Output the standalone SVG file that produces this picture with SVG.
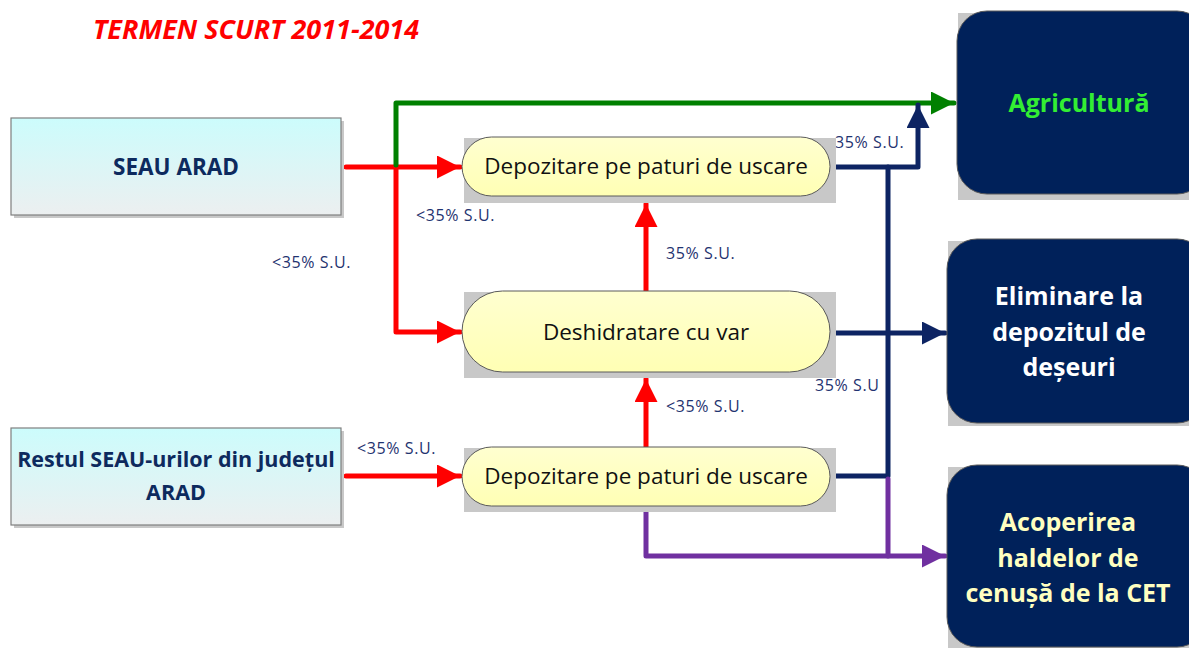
<svg xmlns="http://www.w3.org/2000/svg" width="1189" height="648" viewBox="0 0 1189 648">
<defs>
<linearGradient id="gBlue" x1="0" y1="0" x2="0" y2="1"><stop offset="0" stop-color="#ccfcfc"/><stop offset="1" stop-color="#eceff0"/></linearGradient>
<linearGradient id="gYel" x1="0" y1="0" x2="0" y2="1"><stop offset="0" stop-color="#ffffd0"/><stop offset="1" stop-color="#ffffb4"/></linearGradient>
<marker id="aRed" viewBox="0 0 10 10" refX="10" refY="5" markerWidth="4.6" markerHeight="4.6" markerUnits="strokeWidth" orient="auto"><path d="M0,0 L10,5 L0,10 z" fill="#ff0000"/></marker>
<marker id="aGreen" viewBox="0 0 10 10" refX="10" refY="5" markerWidth="4.6" markerHeight="4.6" markerUnits="strokeWidth" orient="auto"><path d="M0,0 L10,5 L0,10 z" fill="#008000"/></marker>
<marker id="aNavy" viewBox="0 0 10 10" refX="10" refY="5" markerWidth="4.6" markerHeight="4.6" markerUnits="strokeWidth" orient="auto"><path d="M0,0 L10,5 L0,10 z" fill="#0d2463"/></marker>
<marker id="aPurple" viewBox="0 0 10 10" refX="10" refY="5" markerWidth="4.6" markerHeight="4.6" markerUnits="strokeWidth" orient="auto"><path d="M0,0 L10,5 L0,10 z" fill="#7030a0"/></marker>
</defs>
<style>
.src{fill:url(#gBlue);stroke:#7f7f7f;stroke-width:1.2}
.sh{fill:#c8c8c8}
.pill{fill:url(#gYel);stroke:#5a5a5a;stroke-width:1}
.dst{fill:#00215a;stroke:#5a5a5a;stroke-width:1}
.ln{fill:none;stroke-width:5;stroke-linejoin:round;stroke-linecap:round}
.red{stroke:#ff0000}
.green{stroke:#008000}
.navy{stroke:#0d2463}
.purple{stroke:#7030a0}
.t{font-family:"Open Sans","Liberation Sans",sans-serif}
.srct{font-weight:bold;fill:#0d2a5e;text-anchor:middle}
.pt{font-size:22.5px;fill:#111;text-anchor:middle}
.dt{font-size:25px;font-weight:bold;text-anchor:middle}
.lbl{font-size:16px;letter-spacing:0.6px;fill:#1f3370}
</style>
<text class="t" x="93" y="39" font-size="27" font-weight="bold" font-style="italic" fill="#ff0000">TERMEN SCURT 2011-2014</text>

<g id="connectors">
<path class="ln red" d="M346,167 L460,167" marker-end="url(#aRed)"/>
<path class="ln red" d="M396,167 L396,332 L460,332" marker-end="url(#aRed)"/>
<path class="ln green" d="M396,165 L396,103 L954,103" marker-end="url(#aGreen)"/>
<path class="ln red" d="M646,291 L646,204" marker-end="url(#aRed)"/>
<path class="ln red" d="M646,447 L646,379" marker-end="url(#aRed)"/>
<path class="ln red" d="M346,476 L460,476" marker-end="url(#aRed)"/>
<path class="ln navy" d="M836,167 L918,167 L918,105" marker-end="url(#aNavy)"/>
<path class="ln navy" d="M829,476 L888,476 L888,167"/>
<path class="ln navy" d="M836,333 L945,333" marker-end="url(#aNavy)"/>
<path class="ln purple" d="M646,504 L646,556 L945,556" marker-end="url(#aPurple)"/>
<path class="ln purple" d="M888,479 L888,556"/>
</g>

<g id="lbl1"><text class="t lbl" x="416" y="221">&lt;35% S.U.</text></g>
<g id="lbl2"><text class="t lbl" x="272" y="268">&lt;35% S.U.</text></g>
<g id="lbl3"><text class="t lbl" x="666" y="259">35% S.U.</text></g>
<g id="lbl4"><text class="t lbl" x="666" y="412">&lt;35% S.U.</text></g>
<g id="lbl5"><text class="t lbl" x="357" y="454">&lt;35% S.U.</text></g>
<g id="lbl6"><text class="t lbl" x="835" y="148">35% S.U.</text></g>
<g id="lbl7"><text class="t lbl" x="815" y="391">35% S.U</text></g>

<g id="seau-arad">
<rect class="sh" x="14" y="121" width="330" height="97"/>
<rect class="src" x="11" y="118" width="330" height="97"/>
<text class="t srct" x="176" y="175" font-size="22.5">SEAU ARAD</text>
</g>
<g id="restul">
<rect class="sh" x="14" y="431" width="330" height="97"/>
<rect class="src" x="11" y="428" width="330" height="97"/>
<text class="t srct" x="176" y="467" font-size="21.5">Restul SEAU-urilor din județul</text>
<text class="t srct" x="176" y="500" font-size="21.5">ARAD</text>
</g>

<g id="depozitare1">
<rect class="sh" x="464" y="138" width="372" height="65"/>
<rect class="pill" x="462" y="137" width="368" height="59" rx="29.5"/>
<text class="t pt" x="646" y="174">Depozitare pe paturi de uscare</text>
</g>
<g id="deshidratare">
<rect class="sh" x="464" y="292" width="372" height="86"/>
<rect class="pill" x="462" y="291" width="368" height="81" rx="40.5"/>
<text class="t pt" x="646" y="340">Deshidratare cu var</text>
</g>
<g id="depozitare2">
<rect class="sh" x="464" y="448" width="372" height="64"/>
<rect class="pill" x="462" y="447" width="368" height="59" rx="29.5"/>
<text class="t pt" x="646" y="484">Depozitare pe paturi de uscare</text>
</g>

<g id="agricultura">
<rect class="sh" x="958" y="13" width="231" height="187"/>
<rect class="dst" x="957" y="11" width="250" height="183" rx="30"/>
<text class="t dt" x="1079" y="112" fill="#33ee33">Agricultură</text>
</g>
<g id="eliminare">
<rect class="sh" x="948" y="241" width="241" height="185"/>
<rect class="dst" x="947" y="239" width="260" height="184" rx="30"/>
<text class="t dt" x="1069" y="305" fill="#ffffff">Eliminare la</text>
<text class="t dt" x="1069" y="341" fill="#ffffff">depozitul de</text>
<text class="t dt" x="1069" y="376" fill="#ffffff">deșeuri</text>
</g>
<g id="acoperirea">
<rect class="sh" x="948" y="467" width="241" height="181"/>
<rect class="dst" x="947" y="465" width="260" height="182" rx="30"/>
<text class="t dt" x="1068" y="531" fill="#ffffc0">Acoperirea</text>
<text class="t dt" x="1068" y="567" fill="#ffffc0">haldelor de</text>
<text class="t dt" x="1068" y="602" fill="#ffffc0">cenușă de la CET</text>
</g>
</svg>
